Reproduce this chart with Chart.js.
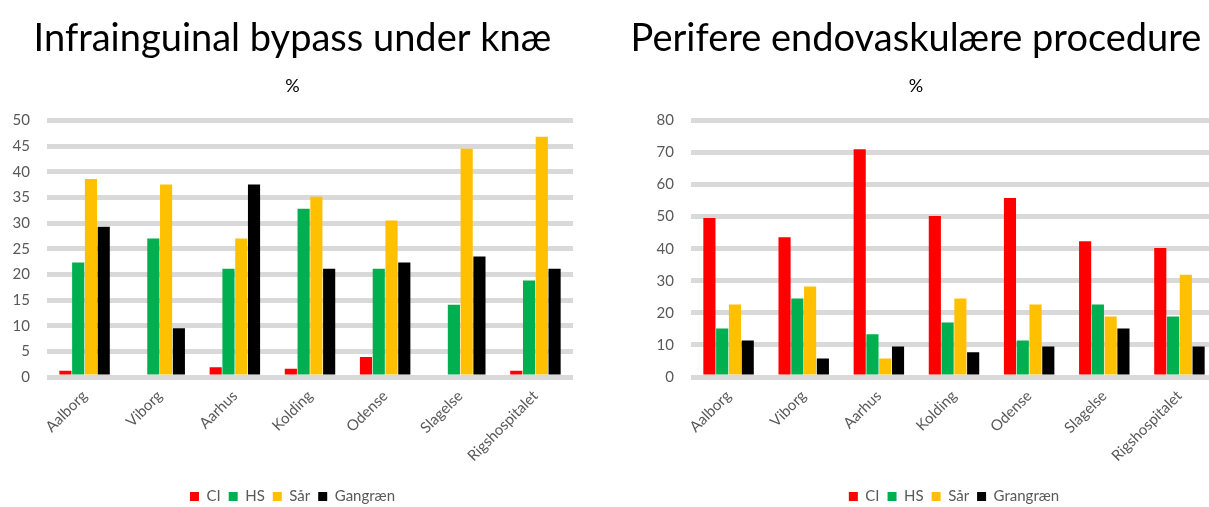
<!DOCTYPE html>
<html>
<head>
<meta charset="utf-8">
<script src="https://cdn.jsdelivr.net/npm/chart.js@4"></script>
<style>
  body { margin: 0; background: #fff; overflow: hidden; width: 1209px; height: 507px; position: relative; }
  canvas { position: absolute; top: 0; }
  #left { left: 0; }
  #right { left: 615px; }
</style>
</head>
<body>
<canvas id="left" width="595" height="507"></canvas>
<canvas id="right" width="605" height="507"></canvas>
<script>
// hospitals
var hospitals = ['Aalborg', 'Viborg', 'Aarhus', 'Kolding', 'Odense', 'Slagelse', 'Rigshospitalet']

// Infrainguinal bypass under knæ (%)
var bypassCI = [1.2, 0, 1.9, 1.6, 3.9, 0, 1.2]
var bypassHS = [22.3, 27.0, 21.1, 32.8, 21.1, 14.1, 18.8]
var bypassSar = [38.6, 37.5, 27.0, 35.1, 30.5, 44.5, 46.8]
var bypassGangraen = [29.3, 9.5, 37.5, 21.1, 22.3, 23.5, 21.1]

// Perifere endovaskulære procedure (%)
var endoCI = [49.6, 43.6, 71.0, 50.2, 55.8, 42.3, 40.2]
var endoHS = [15.1, 24.5, 13.3, 17.0, 11.4, 22.6, 18.9]
var endoSar = [22.6, 28.2, 5.8, 24.5, 22.6, 18.9, 31.9]
var endoGangraen = [11.4, 5.8, 9.5, 7.7, 9.5, 15.1, 9.5]

var seriesLabelsLeft = ['CI', 'HS', 'Sår', 'Gangræn']
var seriesLabelsRight = ['CI', 'HS', 'Sår', 'Grangræn']
var colors = ['#ff0000', '#00b050', '#ffc000', '#000000']

var FONT = 'Lato, "Liberation Sans", sans-serif'
var GREY = '#595959'

function makeDatasets(labels, seriesData) {
    return seriesData.map(function (d, i) {
        return {
            label: labels[i],
            data: d,
            backgroundColor: colors[i],
            borderWidth: 0,
            categoryPercentage: 0.68,
            barPercentage: 0.95
        }
    })
}

function makeChart(id, title, datasets, yMax, yStep, yWidth, padLeft, padRight, legendFull) {
    var ctx = document.getElementById(id).getContext('2d')
    return new Chart(ctx, {
        type: 'bar',
        data: { labels: hospitals, datasets: datasets },
        options: {
            responsive: false,
            animation: false,
            layout: { padding: { left: padLeft, right: padRight, top: 0, bottom: -7 } },
            plugins: {
                title: {
                    display: true,
                    text: title,
                    color: '#000',
                    font: { family: FONT, size: 38, weight: 'normal' },
                    padding: { top: 16, bottom: 13.6 }
                },
                subtitle: {
                    display: true,
                    text: '%',
                    color: '#000',
                    font: { family: FONT, size: 18, weight: 'normal' },
                    padding: { top: 0, bottom: 23.6 }
                },
                legend: {
                    position: 'bottom',
                    fullSize: legendFull,
                    labels: {
                        color: GREY,
                        font: { family: FONT, size: 15 },
                        boxWidth: 9,
                        boxHeight: 9,
                        padding: 8
                    }
                },
                tooltip: { enabled: false }
            },
            scales: {
                x: {
                    grid: { display: false },
                    border: { display: false },
                    ticks: {
                        color: GREY,
                        font: { family: FONT, size: 15 },
                        minRotation: 45,
                        maxRotation: 45,
                        padding: 2
                    },
                    afterFit: function (s) { s.height = 104 }
                },
                y: {
                    min: 0,
                    max: yMax,
                    grid: { color: '#d9d9d9', lineWidth: 5, drawTicks: false },
                    border: { display: false },
                    ticks: {
                        stepSize: yStep,
                        color: GREY,
                        font: { family: FONT, size: 15 },
                        padding: 17
                    },
                    afterFit: function (s) { s.width = yWidth }
                }
            }
        }
    })
}

var leftChart = makeChart('left', 'Infrainguinal bypass under knæ',
    makeDatasets(seriesLabelsLeft, [bypassCI, bypassHS, bypassSar, bypassGangraen]),
    50, 5, 35, 12, 22, true)

var rightChart = makeChart('right', 'Perifere endovaskulære procedure',
    makeDatasets(seriesLabelsRight, [endoCI, endoHS, endoSar, endoGangraen]),
    80, 10, 76, 0, 3, false)
</script>
</body>
</html>
